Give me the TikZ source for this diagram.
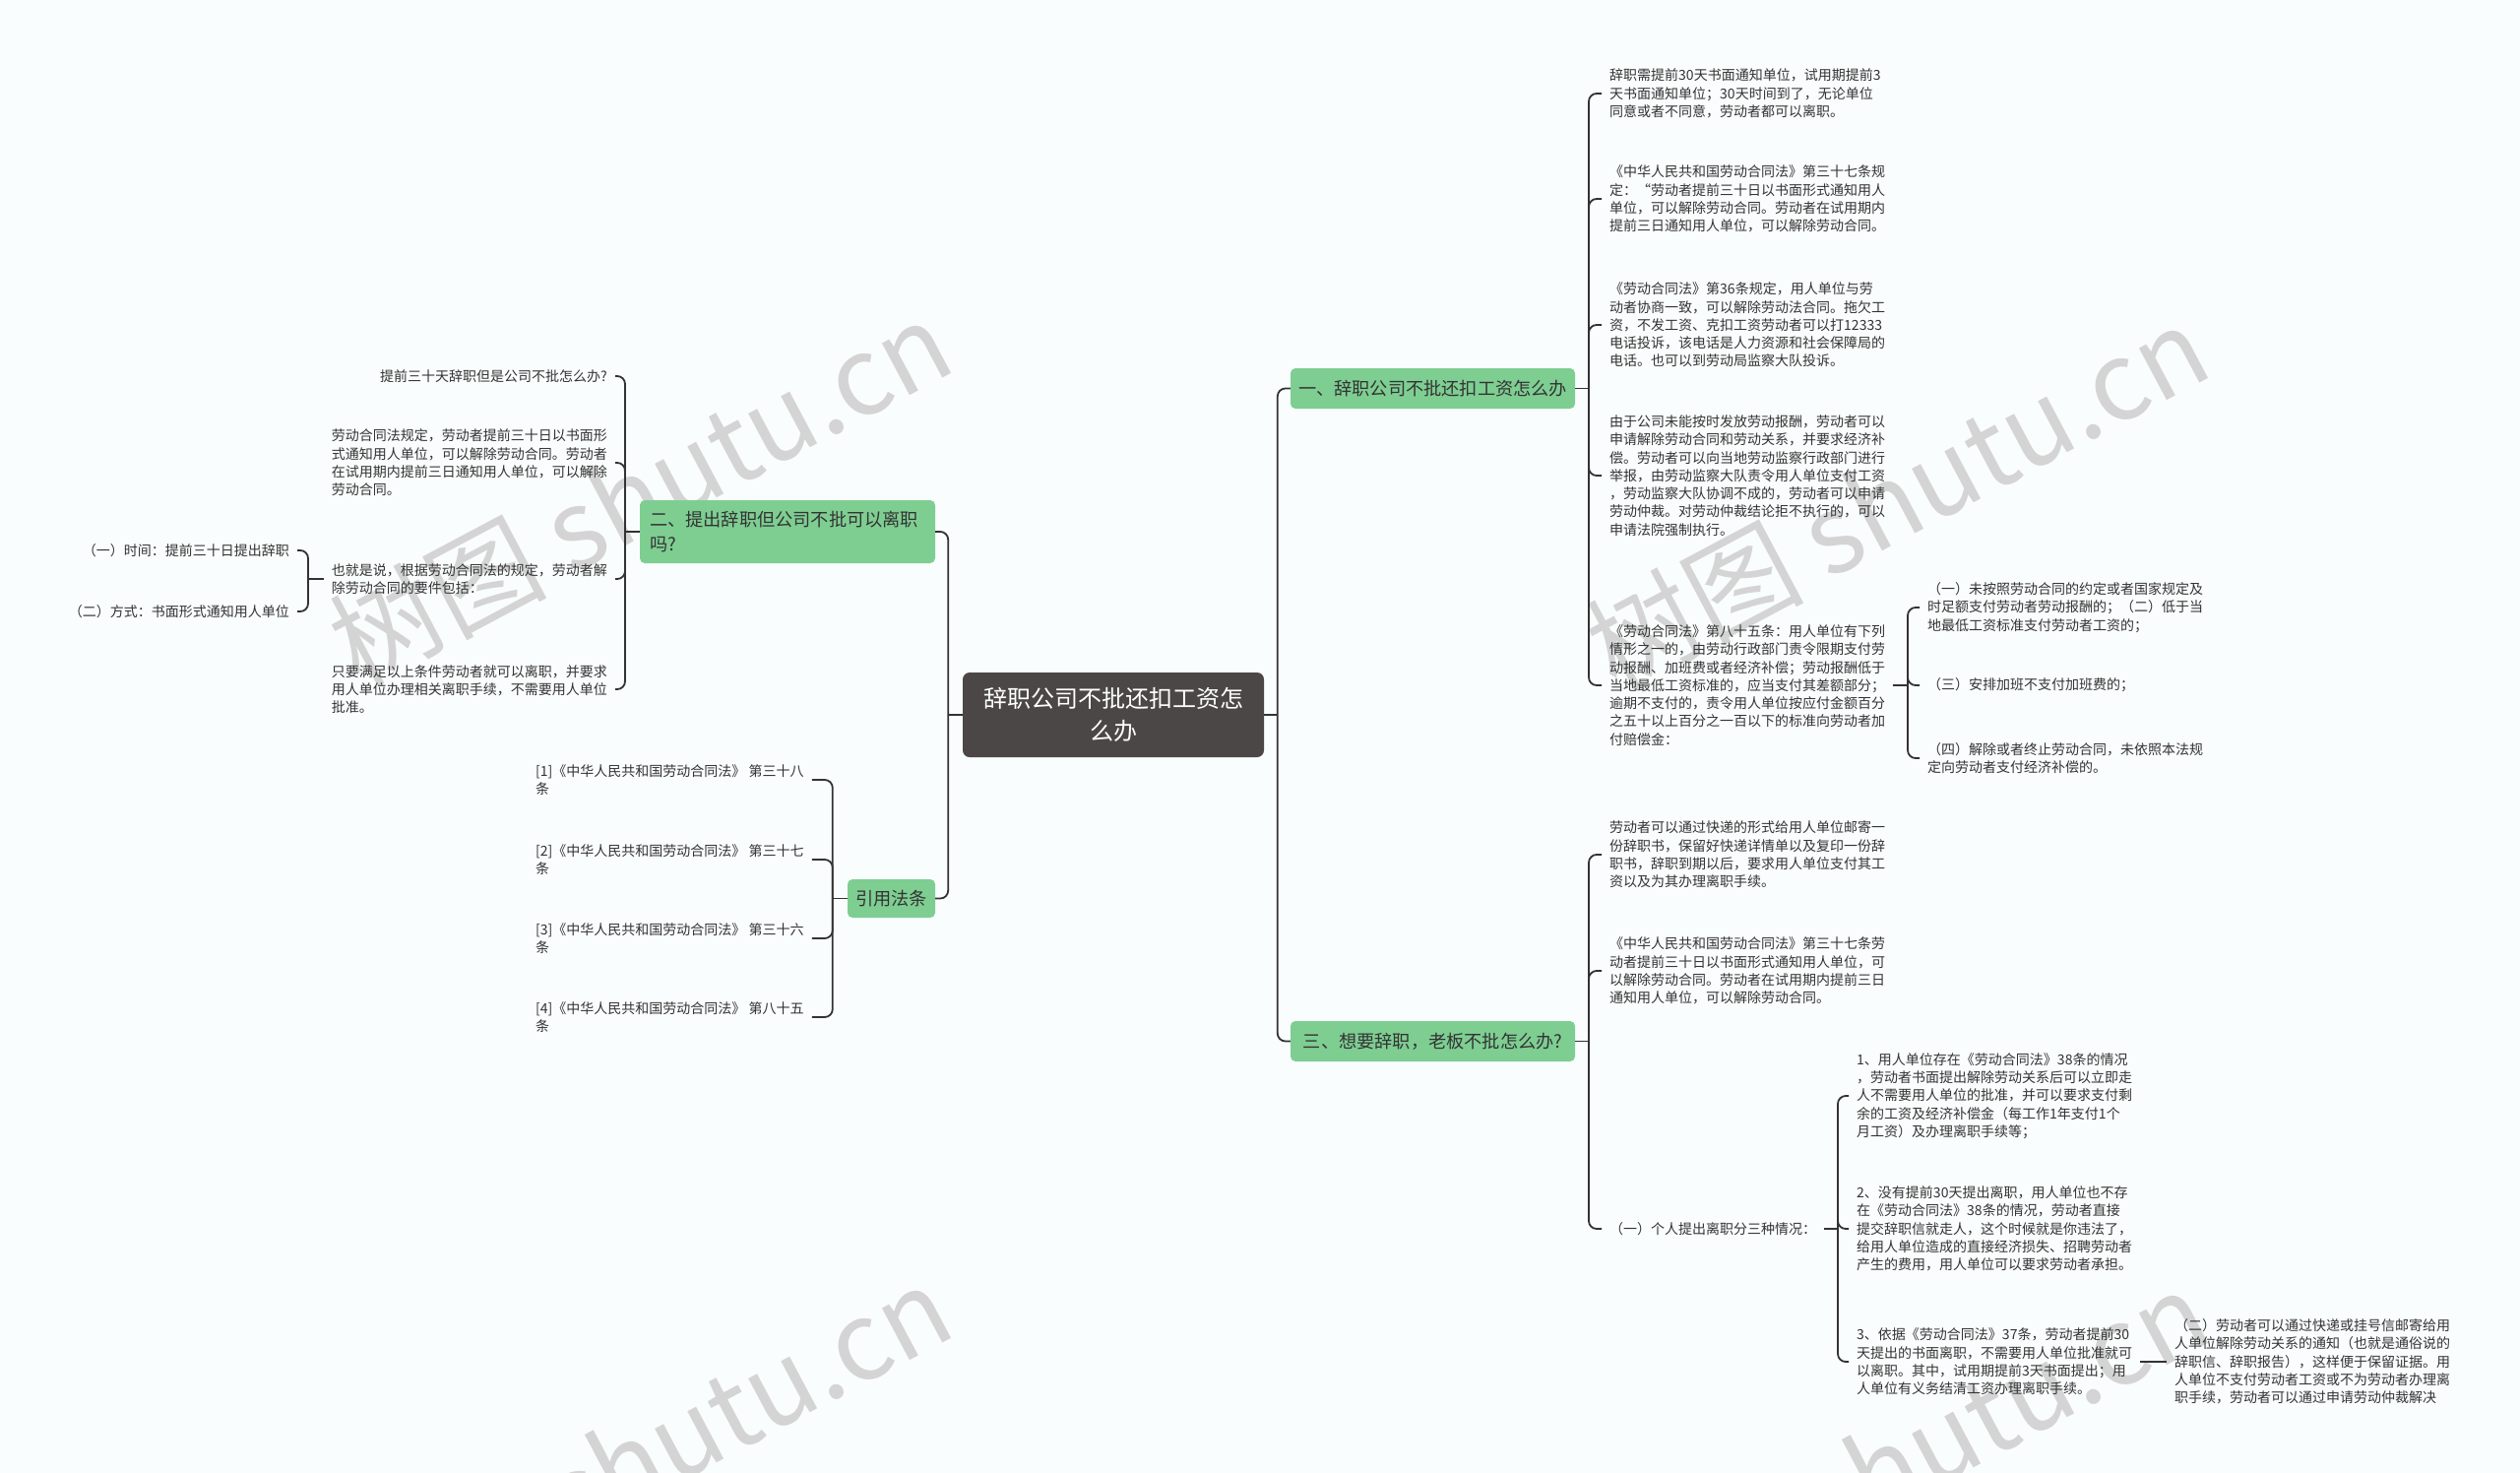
\documentclass[tikz,border=0pt]{standalone}
\usepackage{fontspec}
\setmainfont{Noto Sans CJK SC}
\definecolor{bg}{RGB}{250,253,253}
\definecolor{rootc}{RGB}{75,71,71}
\definecolor{greenc}{RGB}{126,206,146}
\definecolor{linec}{RGB}{51,51,51}
\definecolor{txt}{RGB}{51,51,51}
\definecolor{wm}{RGB}{212,212,212}
\tikzset{
  conn/.style={draw=linec, line width=1.8pt},
  crv/.style={conn, rounded corners=8pt},
  leaf/.style={inner xsep=8pt, inner ysep=2pt, align=left, text=txt, font=\fontsize{14}{18.3}\selectfont},
  rleaf/.style={leaf, anchor=west},
  lleaf/.style={leaf, anchor=east},
  grn/.style={fill=greenc, rounded corners=5pt, text=txt, font=\fontsize{18.2}{24.5}\selectfont, inner sep=0pt},
  rootbox/.style={fill=rootc, text=white, rounded corners=7pt, minimum width=306pt, minimum height=86pt, align=center, inner sep=0pt, font=\fontsize{24}{33}\selectfont},
  wmark/.style={text=wm, font=\fontsize{110}{110}\selectfont, rotate=28, inner sep=0pt},
}
\begin{document}
\begin{tikzpicture}[x=1pt,y=-1pt]
\useasboundingbox (0,0) rectangle (2560,1496);
\clip (0,0) rectangle (2560,1496);
\fill[bg] (0,0) rectangle (2560,1496);
% watermarks
\node[wmark] (wm1) at (650,500) {树图 shutu.cn};
\node[wmark] (wm2) at (1927,505) {树图 shutu.cn};
\node[wmark] (wm3) at (650,1480) {树图 shutu.cn};
\node[wmark] (wm4) at (1927,1485) {树图 shutu.cn};
% root and main branches
\node[rootbox] (root) at (1131,726) {辞职公司不批还扣工资怎\\么办};
\node[grn, minimum width=289pt, minimum height=41pt] (b1) at (1455.5,394.5) {一、辞职公司不批还扣工资怎么办};
\node[grn, minimum width=289pt, minimum height=41pt] (b3) at (1455.5,1057.5) {三、想要辞职，老板不批怎么办?};
\node[grn, text width=280pt, align=left, inner xsep=10pt, minimum height=64pt] (b2) at (800,540) {二、提出辞职但公司不批可以离职\\吗?};
\node[grn, minimum width=89pt, minimum height=39pt] (b4) at (905.5,912.5) {引用法条};
% branch 1 leaves
\node[rleaf] (r1) at (1627,95) {辞职需提前30天书面通知单位，试用期提前3\\天书面通知单位；30天时间到了，无论单位\\同意或者不同意，劳动者都可以离职。};
\node[rleaf] (r2) at (1627,202) {《中华人民共和国劳动合同法》第三十七条规\\定：“劳动者提前三十日以书面形式通知用人\\单位，可以解除劳动合同。劳动者在试用期内\\提前三日通知用人单位，可以解除劳动合同。};
\node[rleaf] (r3) at (1627,330) {《劳动合同法》第36条规定，用人单位与劳\\动者协商一致，可以解除劳动法合同。拖欠工\\资，不发工资、克扣工资劳动者可以打12333\\电话投诉，该电话是人力资源和社会保障局的\\电话。也可以到劳动局监察大队投诉。};
\node[rleaf] (r4) at (1627,483) {由于公司未能按时发放劳动报酬，劳动者可以\\申请解除劳动合同和劳动关系，并要求经济补\\偿。劳动者可以向当地劳动监察行政部门进行\\举报，由劳动监察大队责令用人单位支付工资\\，劳动监察大队协调不成的，劳动者可以申请\\劳动仲裁。对劳动仲裁结论拒不执行的，可以\\申请法院强制执行。};
\node[rleaf] (r5) at (1627,696) {《劳动合同法》第八十五条：用人单位有下列\\情形之一的，由劳动行政部门责令限期支付劳\\动报酬、加班费或者经济补偿；劳动报酬低于\\当地最低工资标准的，应当支付其差额部分；\\逾期不支付的，责令用人单位按应付金额百分\\之五十以上百分之一百以下的标准向劳动者加\\付赔偿金：};
\node[rleaf] (r5a) at (1950,617) {（一）未按照劳动合同的约定或者国家规定及\\时足额支付劳动者劳动报酬的；（二）低于当\\地最低工资标准支付劳动者工资的；};
\node[rleaf] (r5b) at (1950,696) {（三）安排加班不支付加班费的；};
\node[rleaf] (r5c) at (1950,770) {（四）解除或者终止劳动合同，未依照本法规\\定向劳动者支付经济补偿的。};
% branch 3 leaves
\node[rleaf] (r6) at (1627,868) {劳动者可以通过快递的形式给用人单位邮寄一\\份辞职书，保留好快递详情单以及复印一份辞\\职书，辞职到期以后，要求用人单位支付其工\\资以及为其办理离职手续。};
\node[rleaf] (r7) at (1627,986) {《中华人民共和国劳动合同法》第三十七条劳\\动者提前三十日以书面形式通知用人单位，可\\以解除劳动合同。劳动者在试用期内提前三日\\通知用人单位，可以解除劳动合同。};
\node[rleaf] (r8) at (1627,1248) {（一）个人提出离职分三种情况：};
\node[rleaf] (r8a) at (1878,1113) {1、用人单位存在《劳动合同法》38条的情况\\，劳动者书面提出解除劳动关系后可以立即走\\人不需要用人单位的批准，并可以要求支付剩\\余的工资及经济补偿金（每工作1年支付1个\\月工资）及办理离职手续等；};
\node[rleaf] (r8b) at (1878,1248) {2、没有提前30天提出离职，用人单位也不存\\在《劳动合同法》38条的情况，劳动者直接\\提交辞职信就走人，这个时候就是你违法了，\\给用人单位造成的直接经济损失、招聘劳动者\\产生的费用，用人单位可以要求劳动者承担。};
\node[rleaf] (r8c) at (1878,1383) {3、依据《劳动合同法》37条，劳动者提前30\\天提出的书面离职，不需要用人单位批准就可\\以离职。其中，试用期提前3天书面提出；用\\人单位有义务结清工资办理离职手续。};
\node[rleaf] (r9) at (2201,1383) {（二）劳动者可以通过快递或挂号信邮寄给用\\人单位解除劳动关系的通知（也就是通俗说的\\辞职信、辞职报告），这样便于保留证据。用\\人单位不支付劳动者工资或不为劳动者办理离\\职手续，劳动者可以通过申请劳动仲裁解决};
% branch 2 leaves
\node[lleaf] (l1) at (625,382) {提前三十天辞职但是公司不批怎么办?};
\node[lleaf] (l2) at (625,470) {劳动合同法规定，劳动者提前三十日以书面形\\式通知用人单位，可以解除劳动合同。劳动者\\在试用期内提前三日通知用人单位，可以解除\\劳动合同。};
\node[lleaf] (l3) at (625,588) {也就是说，根据劳动合同法的规定，劳动者解\\除劳动合同的要件包括：};
\node[lleaf] (l4) at (625,700) {只要满足以上条件劳动者就可以离职，并要求\\用人单位办理相关离职手续，不需要用人单位\\批准。};
\node[lleaf] (l3a) at (302,559) {（一）时间：提前三十日提出辞职};
\node[lleaf] (l3b) at (302,621) {（二）方式：书面形式通知用人单位};
% citations
\node[rleaf] (c1) at (536,792) {[1]《中华人民共和国劳动合同法》 第三十八\\条};
\node[rleaf] (c2) at (536,873) {[2]《中华人民共和国劳动合同法》 第三十七\\条};
\node[rleaf] (c3) at (536,953) {[3]《中华人民共和国劳动合同法》 第三十六\\条};
\node[rleaf] (c4) at (536,1033) {[4]《中华人民共和国劳动合同法》 第八十五\\条};
% spine points
\coordinate (rs) at ([xshift=-13pt]b1.west |- root.east);
\coordinate (ls) at ([xshift=13pt]b2.east |- root.west);
\coordinate (b1s) at ([xshift=-13pt]r1.west |- b1.east);
\coordinate (b3s) at ([xshift=-13pt]r6.west |- b3.east);
\coordinate (r5s) at ([xshift=-12pt]r5a.west |- r5.east);
\coordinate (r8s) at ([xshift=-11pt]r8a.west |- r8.east);
\coordinate (b2s) at ([xshift=10pt]l1.east |- b2.west);
\coordinate (l3s) at ([xshift=11pt]l3a.east |- l3.west);
\coordinate (b4s) at ([xshift=-15pt]b4.west);
% connectors
\draw[conn] (root.east) -- (rs);
\draw[crv] (rs) |- (b1.west);
\draw[crv] (rs) |- (b3.west);
\draw[conn] (root.west) -- (ls);
\draw[crv] (ls) |- (b2.east);
\draw[crv] (ls) |- (b4.east);
\draw[conn] (b1.east) -- (b1s);
\foreach \n in {r1,r2,r3,r4,r5} \draw[crv] (b1s) |- (\n.west);
\draw[conn] (r5.east) -- (r5s);
\foreach \n in {r5a,r5b,r5c} \draw[crv] (r5s) |- (\n.west);
\draw[conn] (b3.east) -- (b3s);
\foreach \n in {r6,r7,r8} \draw[crv] (b3s) |- (\n.west);
\draw[conn] (r8.east) -- (r8s);
\foreach \n in {r8a,r8b,r8c} \draw[crv] (r8s) |- (\n.west);
\draw[conn] (r8c.east) -- (r9.west);
\draw[conn] (b2.west) -- (b2s);
\foreach \n in {l1,l2,l3,l4} \draw[crv] (b2s) |- (\n.east);
\draw[conn] (l3.west) -- (l3s);
\foreach \n in {l3a,l3b} \draw[crv] (l3s) |- (\n.east);
\draw[conn] (b4.west) -- (b4s);
\foreach \n in {c1,c2,c3,c4} \draw[crv] (b4s) |- (\n.east);
\end{tikzpicture}
\end{document}
